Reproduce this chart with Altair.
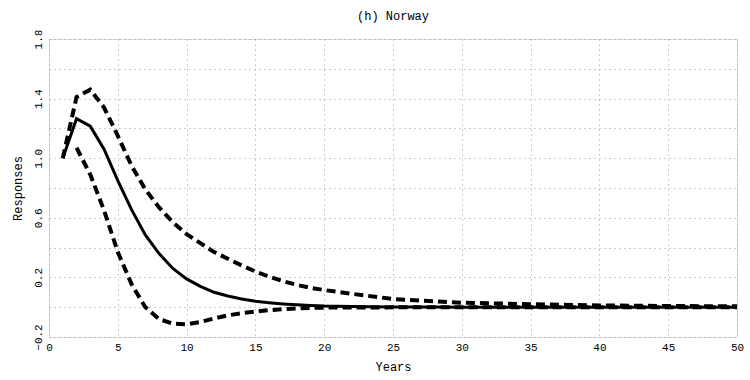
import altair as alt
import pandas as pd

years = [1, 2, 3, 4, 5, 6, 7, 8, 9, 10, 11, 12, 13, 14, 15, 16, 17, 18, 19, 20,
         22, 25, 28, 30, 35, 40, 45, 50]
median = [1.0, 1.265, 1.215, 1.06, 0.85, 0.655, 0.485, 0.36, 0.26, 0.19, 0.14, 0.10,
          0.075, 0.055, 0.04, 0.03, 0.022, 0.016, 0.012, 0.008,
          0.005, 0.002, 0.001, 0.0, 0.0, 0.0, 0.0, 0.0]
upper = [1.0, 1.41, 1.46, 1.34, 1.15, 0.95, 0.79, 0.67, 0.57, 0.49, 0.43, 0.37,
         0.325, 0.28, 0.24, 0.205, 0.175, 0.15, 0.13, 0.115,
         0.09, 0.055, 0.04, 0.03, 0.02, 0.012, 0.008, 0.006]
lower_years = [2, 3, 4, 5, 6, 7, 8, 9, 10, 11, 12, 13, 14, 15, 16, 17, 18, 19, 20,
               22, 25, 28, 30, 35, 40, 45, 50]
lower = [1.07, 0.89, 0.65, 0.37, 0.155, 0.0, -0.08, -0.11, -0.115, -0.10, -0.075,
         -0.055, -0.04, -0.03, -0.02, -0.013, -0.008, -0.005, -0.003,
         -0.002, -0.001, 0.0, 0.0, 0.0, 0.0, 0.0, 0.0]

x_ticks = [0, 5, 10, 15, 20, 25, 30, 35, 40, 45, 50]
y_ticks = [-0.2, 0.0, 0.2, 0.4, 0.6, 0.8, 1.0, 1.2, 1.4, 1.6, 1.8]

FONT = "Liberation Mono"

df_med = pd.DataFrame({"year": years, "value": median})
df_up = pd.DataFrame({"year": years, "value": upper})
df_lo = pd.DataFrame({"year": lower_years, "value": lower})

x_enc = alt.X("year:Q", scale=alt.Scale(domain=[0, 50], nice=False, zero=False),
              axis=alt.Axis(values=x_ticks, title="Years", grid=True, gridColor="#999",
                            gridDash=[1, 4], gridWidth=1, ticks=False, domain=False,
                            labelFont=FONT, labelFontSize=11, labelColor="black",
                            labelPadding=4, titleFont=FONT, titleFontSize=12,
                            titleFontWeight="normal", titleColor="black", titlePadding=9,
                            labelFlush=False))
y_enc = alt.Y("value:Q", scale=alt.Scale(domain=[-0.2, 1.8], nice=False, zero=False),
              axis=alt.Axis(values=y_ticks, title="Responses", grid=True, gridColor="#999",
                            gridDash=[1, 4], gridWidth=1, ticks=False, domain=False,
                            labelExpr="abs(round(datum.value*10)) % 4 == 2 ? format(datum.value, '.1f') : ''",
                            labelAngle=-90, labelAlign="center", labelBaseline="bottom",
                            labelFont=FONT, labelFontSize=11, labelColor="black",
                            labelPadding=6, labelFlush=False,
                            titleFont=FONT, titleFontSize=12, titleFontWeight="normal",
                            titleColor="black", titlePadding=8))

med_line = alt.Chart(df_med).mark_line(color="black", strokeWidth=3).encode(x=x_enc, y=y_enc)
up_line = alt.Chart(df_up).mark_line(color="black", strokeWidth=4, strokeDash=[9, 5]).encode(x=x_enc, y=y_enc)
lo_line = alt.Chart(df_lo).mark_line(color="black", strokeWidth=4, strokeDash=[9, 5]).encode(x=x_enc, y=y_enc)

chart = alt.layer(up_line, lo_line, med_line).properties(
    width=688, height=298,
    title=alt.TitleParams("(h) Norway", font=FONT, fontSize=12, fontWeight="normal",
                          color="black", anchor="middle", offset=6),
    autosize=alt.AutoSizeParams(type="none"),
    padding={"left": 49, "top": 39, "right": 13, "bottom": 43},
).configure_view(stroke="black", strokeWidth=2.5).configure(background="white")

chart.save("out.html", embed_options={"renderer": "svg", "actions": False})
